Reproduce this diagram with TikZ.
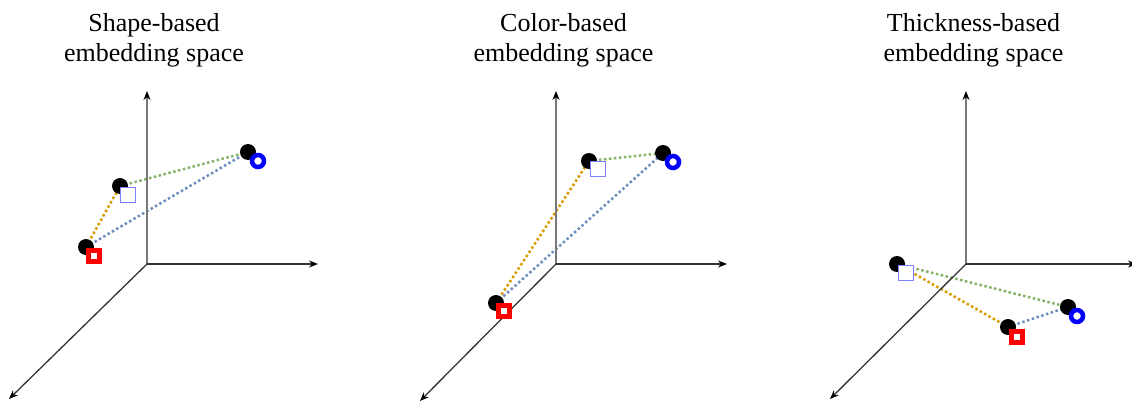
\documentclass[tikz,border=0pt]{standalone}
\usepackage{fontspec}
\setmainfont{Liberation Serif}
\usetikzlibrary{arrows.meta}
\pgfdeclarelayer{background}
\pgfsetlayers{background,main}
\definecolor{ornline}{HTML}{D79B00}
\definecolor{grnline}{HTML}{82B366}
\definecolor{bluline}{HTML}{6C8EBF}
\definecolor{lightsq}{HTML}{8080FF}
\definecolor{axisv}{HTML}{777777}
\definecolor{axish}{HTML}{333333}
\tikzset{
  title/.style={font=\fontsize{26}{30}\selectfont, anchor=base, inner sep=0},
  axisline/.style={line width=1.3pt, -{Stealth[length=9pt,width=7pt,color=black]}},
  dotnode/.style={circle, fill=black, minimum size=16pt, inner sep=0},
  redsq/.style={rectangle, draw=red, line width=4.5pt, fill=white, minimum size=11pt, inner sep=0},
  lsq/.style={rectangle, draw=lightsq, line width=1.6pt, fill=white, minimum size=15pt, inner sep=0},
  ring/.style={circle, draw=blue, line width=4.5pt, fill=white, minimum size=12pt, inner sep=0},
  conn/.style={line width=2.5pt, dash pattern=on 2.5pt off 2.5pt},
}
\begin{document}
\begin{tikzpicture}[x=1pt,y=-1pt]
\useasboundingbox (0,0) rectangle (1132,401);
% titles
\node[title] (t1a) at (154,32) {Shape-based};
\node[title] (t1b) at (154,62) {embedding space};
\node[title] (t2a) at (563.5,32) {Color-based};
\node[title] (t2b) at (563.5,62) {embedding space};
\node[title] (t3a) at (973.5,32) {Thickness-based};
\node[title] (t3b) at (973.5,62) {embedding space};
% axes
\foreach \i/\ox/\hx/\dx/\dy in {1/147/318/9/399, 2/556/727/420/401, 3/966/1137/830/399}{
  \coordinate (o\i) at (\ox,264);
  \coordinate (v\i) at (\ox,91);
  \coordinate (h\i) at (\hx,264);
  \coordinate (d\i) at (\dx,\dy);
  \draw[axisline, axisv] (o\i) -- (v\i);
  \draw[axisline, axish] (o\i) -- (h\i);
  \draw[axisline, axish] (o\i) -- (d\i);
}
% panel 1
\node[dotnode] (p1r) at (86,247) {};
\node[dotnode] (p1l) at (120,186) {};
\node[dotnode] (p1b) at (248,152) {};
\node[redsq] (m1r) at (94,256) {};
\node[lsq] (m1l) at (128,195) {};
\node[ring] (m1b) at (258,161) {};
% panel 2
\node[dotnode] (p2r) at (496,303) {};
\node[dotnode] (p2l) at (589,161) {};
\node[dotnode] (p2b) at (663,153) {};
\node[redsq] (m2r) at (504,311) {};
\node[lsq] (m2l) at (598,169) {};
\node[ring] (m2b) at (673,162) {};
% panel 3
\node[dotnode] (p3l) at (897,264) {};
\node[dotnode] (p3b) at (1068,307) {};
\node[dotnode] (p3r) at (1008,327) {};
\node[lsq] (m3l) at (906,273) {};
\node[ring] (m3b) at (1077,316) {};
\node[redsq] (m3r) at (1017,337) {};
\begin{pgfonlayer}{background}
\foreach \i in {1,2,3}{
  \draw[conn, ornline] (p\i r.center) -- (p\i l.center);
  \draw[conn, grnline] (p\i l.center) -- (p\i b.center);
  \draw[conn, bluline] (p\i r.center) -- (p\i b.center);
}
\end{pgfonlayer}
\end{tikzpicture}
\end{document}
